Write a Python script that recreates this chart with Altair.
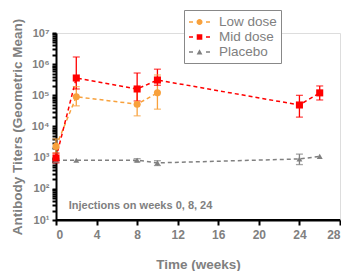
import altair as alt
import pandas as pd

# ---------------- data ----------------
series_names = ["Low dose", "Mid dose", "Placebo"]
series_colors = ["#F8A13C", "#FF0000", "#808080"]

low_weeks = [0, 2, 8, 10]
low_mean = [2300, 90000, 52000, 120000]
low_lo = [1400, 46000, 22000, 36000]
low_hi = [4000, 190000, 160000, 450000]

mid_weeks = [0, 2, 8, 10, 24, 26]
mid_mean = [980, 360000, 160000, 310000, 49000, 120000]
mid_lo = [680, 160000, 66000, 210000, 20000, 71000]
mid_hi = [1400, 1700000, 520000, 690000, 100000, 200000]

pla_weeks = [0, 2, 8, 10, 24, 26]
pla_mean = [830, 830, 830, 680, 910, 1100]
pla_lo = [720, 830, 740, 560, 600, 1100]
pla_hi = [950, 830, 930, 800, 1300, 1100]

x_ticks = [0, 4, 8, 12, 16, 20, 24, 28]
y_major = [10, 100, 1000, 10000, 100000, 1000000, 10000000]
y_minor = [k * d for d in y_major[:-1] for k in range(2, 10)]

annotation = "Injections on weeks 0, 8, 24"
ann_x = [1.25]
ann_y = [28]

# ---------------- table ----------------
rows = []
for name, w, m, lo, hi in [
    ("Placebo", pla_weeks, pla_mean, pla_lo, pla_hi),
    ("Low dose", low_weeks, low_mean, low_lo, low_hi),
    ("Mid dose", mid_weeks, mid_mean, mid_lo, mid_hi),
]:
    for i in range(len(w)):
        rows.append({"series": name, "week": w[i], "mean": m[i], "lo": lo[i], "hi": hi[i]})
df = pd.DataFrame(rows)

FONT = "Liberation Sans"
GREY = "#808080"

xaxis = alt.Axis(
    values=x_ticks, title="Time (weeks)", grid=False,
    domainColor="black", domainWidth=2, tickColor="black", tickWidth=2, tickSize=5,
    labelFont=FONT, labelFontSize=12, labelFontWeight="bold", labelColor=GREY, labelPadding=4,
    titleFont=FONT, titleFontSize=13.5, titleFontWeight="bold", titleColor=GREY, titlePadding=17,
)

is_major = "abs(log(datum.value)/LN10 - round(log(datum.value)/LN10)) < 0.001"
yaxis = alt.Axis(
    values=y_major + y_minor, title="Antibody Titers (Geometric Mean)", grid=False,
    labelExpr=(is_major + " ? '10' + ['⁰','¹','²','³','⁴','⁵','⁶','⁷','⁸'][round(log(datum.value)/LN10)] : ''"),
    domainColor="black", domainWidth=2, tickColor="black", tickWidth=2, tickSize=4,
    labelFont=FONT, labelFontSize=11, labelFontWeight="bold", labelColor=GREY, labelPadding=3,
    labelOverlap=False,
    titleFont=FONT, titleFontSize=13.5, titleFontWeight="bold", titleColor=GREY, titlePadding=7,
)

xs = alt.Scale(domain=[0, 28], nice=False)
ys = alt.Scale(type="log", domain=[10, 10000000], nice=False)
cs = alt.Scale(domain=series_names, range=series_colors)

X = alt.X("week:Q", scale=xs, axis=xaxis)
C = alt.Color("series:N", scale=cs, legend=None)

base = alt.Chart(df)

lines = base.mark_line(strokeDash=[4, 3], strokeWidth=1.5).encode(
    x=X, y=alt.Y("mean:Q", scale=ys, axis=yaxis), color=C
)
err = base.transform_filter("datum.hi > datum.lo")
rules = err.mark_rule(strokeWidth=1.3).encode(
    x=X, y=alt.Y("lo:Q", scale=ys, axis=yaxis), y2="hi:Q", color=C
)
cap_lo = err.mark_tick(orient="horizontal", size=7, thickness=1.3).encode(
    x=X, y=alt.Y("lo:Q", scale=ys, axis=yaxis), color=C
)
cap_hi = err.mark_tick(orient="horizontal", size=7, thickness=1.3).encode(
    x=X, y=alt.Y("hi:Q", scale=ys, axis=yaxis), color=C
)

shapes = {"Placebo": ("triangle-up", 35), "Low dose": ("circle", 50), "Mid dose": ("square", 50)}
point_layers = []
for name in ["Placebo", "Low dose", "Mid dose"]:
    shp, sz = shapes[name]
    point_layers.append(
        base.transform_filter(alt.datum.series == name)
        .mark_point(filled=True, opacity=1, shape=shp, size=sz)
        .encode(x=X, y=alt.Y("mean:Q", scale=ys, axis=yaxis), color=C)
    )

# x-axis baseline drawn through the scales (backup for the axis domain)
x_domain = [0, 28]
y_floor = 10
axis_line = alt.Chart(pd.DataFrame({"x0": [x_domain[0]], "x1": [x_domain[1]], "y": [y_floor]})).mark_rule(
    color="black", strokeWidth=2
).encode(
    x=alt.X("x0:Q", scale=xs, axis=xaxis), x2="x1:Q", y=alt.Y("y:Q", scale=ys, axis=yaxis)
)

# legend symbols: dash - marker - dash
dl = "M-0.875,-0.09H-0.375V0.09H-0.875Z"
dr = "M1.25,-0.09H1.75V0.09H1.25Z"
circle_p = dl + "M0.065,0A0.375,0.375 0 1,0 0.815,0A0.375,0.375 0 1,0 0.065,0Z" + dr
square_p = dl + "M0.09,-0.35H0.79V0.35H0.09Z" + dr
tri_p = dl + "M0.44,-0.33L0.8,0.3H0.08Z" + dr
legend_paths = [circle_p, square_p, tri_p]

leg = alt.Legend(
    orient="none", legendX=128, legendY=-23, title=None,
    strokeColor="#888888", fillColor="white", padding=4,
    labelFont=FONT, labelFontSize=13.5, labelColor=GREY, labelOffset=15,
    labelExpr="datum.label + '\u00a0\u00a0\u00a0\u00a0\u00a0\u00a0\u00a0\u00a0\u00a0\u00a0\u00a0'",
    symbolSize=256, symbolStrokeWidth=0, rowPadding=0,
)
legend_layer = base.transform_filter("false").mark_point(filled=True, opacity=1).encode(
    color=alt.Color("series:N", scale=cs, legend=leg),
    shape=alt.Shape("series:N", scale=alt.Scale(domain=series_names, range=legend_paths), legend=leg),
)

ann = alt.Chart(pd.DataFrame({"t": [annotation], "x": ann_x, "y": ann_y})).mark_text(
    align="left", baseline="middle", font=FONT, fontSize=11, fontWeight="bold", color=GREY
).encode(x=alt.X("x:Q", scale=xs, axis=xaxis), y=alt.Y("y:Q", scale=ys, axis=yaxis), text="t:N")

chart = alt.layer(
    lines, rules, cap_lo, cap_hi, *point_layers, axis_line, ann, legend_layer
).resolve_legend(
    color="independent", shape="independent"
).properties(
    width=284, height=187,
    padding={"left": 2, "top": 1, "right": 0, "bottom": 0},
)

chart.save("out.html", embed_options={"renderer": "svg", "actions": False})
